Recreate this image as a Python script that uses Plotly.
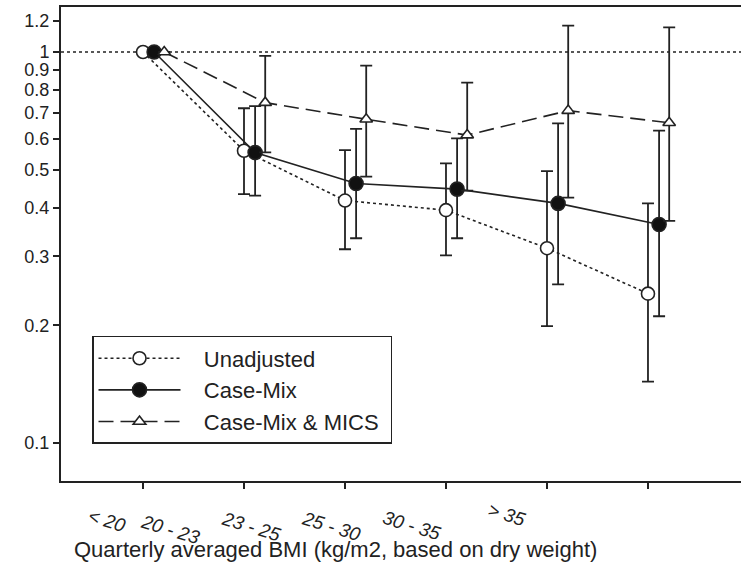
import plotly.graph_objects as go

# ---- data ----
categories = [1, 2, 3, 4, 5, 6]
tick_labels = ["< 20", "20 - 23", "23 - 25", "25 - 30", "30 - 35", "> 35"]
series_names = ["Unadjusted", "Case-Mix", "Case-Mix & MICS"]

unadj = [1.0, 0.559, 0.417, 0.394, 0.315, 0.241]
unadj_hi = [1.0, 0.718, 0.561, 0.519, 0.496, 0.410]
unadj_lo = [1.0, 0.433, 0.313, 0.302, 0.199, 0.1435]

casemix = [1.0, 0.553, 0.461, 0.446, 0.410, 0.362]
casemix_hi = [1.0, 0.727, 0.636, 0.601, 0.657, 0.629]
casemix_lo = [1.0, 0.429, 0.334, 0.334, 0.2546, 0.211]

mics = [1.0, 0.742, 0.673, 0.613, 0.708, 0.659]
mics_hi = [1.0, 0.977, 0.923, 0.835, 1.168, 1.156]
mics_lo = [1.0, 0.554, 0.480, 0.442, 0.424, 0.370]

y_ticks = [0.1, 0.2, 0.3, 0.4, 0.5, 0.6, 0.7, 0.8, 0.9, 1, 1.2]
y_tick_text = ["0.1", "0.2", "0.3", "0.4", "0.5", "0.6", "0.7", "0.8", "0.9", "1", "1.2"]
ref_value = 1.0
x_title = "Quarterly averaged BMI (kg/m2, based on dry weight)"

# ---- layout helpers (positions / styles) ----
offsets = [0.0, 0.11, 0.21]
label_x = [0.64, 1.27, 2.07, 2.87, 3.66, 4.60]
label_y = [-0.084, -0.103, -0.096, -0.096, -0.094, -0.070]
INK = "#222222"
FONT = "Liberation Sans, Arial, sans-serif"
PAD = "\u00a0\u00a0\u00a0"


def err(vals, hi, lo):
    up = [h - v for v, h in zip(vals, hi)]
    dn = [v - l for v, l in zip(vals, lo)]
    return dict(type="data", symmetric=False, array=up, arrayminus=dn,
                color=INK, thickness=1.8, width=6)


fig = go.Figure()

styles = [
    dict(dash="dot", symbol="circle", fill="white", size=13),
    dict(dash="solid", symbol="circle", fill="#111111", size=14),
    dict(dash="15px,7px", symbol="triangle-up", fill="white", size=11),
]
data_sets = [(unadj, unadj_hi, unadj_lo), (casemix, casemix_hi, casemix_lo), (mics, mics_hi, mics_lo)]

for name, (v, hi, lo), st, off in zip(series_names, data_sets, styles, offsets):
    fig.add_trace(go.Scatter(
        x=[c + off for c in categories], y=v, name=PAD + name + "\u00a0",
        mode="lines+markers",
        line=dict(color=INK, width=1.6, dash=st["dash"]),
        marker=dict(symbol=st["symbol"], size=st["size"], color=st["fill"],
                    line=dict(color=INK, width=1.6)),
        error_y=err(v, hi, lo),
    ))

fig.add_shape(type="line", xref="paper", yref="y", x0=0, x1=1,
              y0=ref_value, y1=ref_value,
              line=dict(color=INK, width=1.5, dash="dot"), layer="below")

for lab, lx, ly in zip(tick_labels, label_x, label_y):
    fig.add_annotation(x=lx, y=ly, xref="x", yref="paper", text=lab,
                       showarrow=False, textangle=17,
                       xanchor="center", yanchor="middle",
                       font=dict(family=FONT, size=19, color=INK, style="italic"))

fig.add_annotation(x=0.404, y=-0.1435, xref="paper", yref="paper", text=x_title,
                   showarrow=False, xanchor="center", yanchor="middle",
                   font=dict(family=FONT, size=22, color=INK))

fig.update_layout(
    width=741, height=573,
    margin=dict(l=61, r=0, t=7, b=92, autoexpand=False),
    paper_bgcolor="white", plot_bgcolor="white",
    font=dict(family=FONT, color=INK),
    showlegend=True,
    legend=dict(x=0.0456, y=0.306, xanchor="left", yanchor="top",
                bordercolor=INK, borderwidth=1.5, bgcolor="white",
                font=dict(size=22, family=FONT, color=INK),
                itemwidth=82, tracegroupgap=0),
    xaxis=dict(range=[0.188, 6.921], tickvals=categories, showticklabels=False,
               ticks="outside", ticklen=6, tickwidth=1.5, tickcolor=INK,
               showline=True, linecolor=INK, linewidth=2, mirror=True,
               showgrid=False, zeroline=False, automargin=False),
    yaxis=dict(type="log", range=[-1.097, 0.115], tickvals=y_ticks, ticktext=y_tick_text,
               ticks="outside", ticklen=6, tickwidth=1.5, tickcolor=INK,
               tickfont=dict(size=18, family=FONT, color=INK),
               showline=True, linecolor=INK, linewidth=2, mirror=False,
               showgrid=False, zeroline=False, automargin=False),
)

fig.write_html("out.html", config={"displayModeBar": False},
               post_script="document.body.style.margin='0';document.body.style.overflow='hidden';")
